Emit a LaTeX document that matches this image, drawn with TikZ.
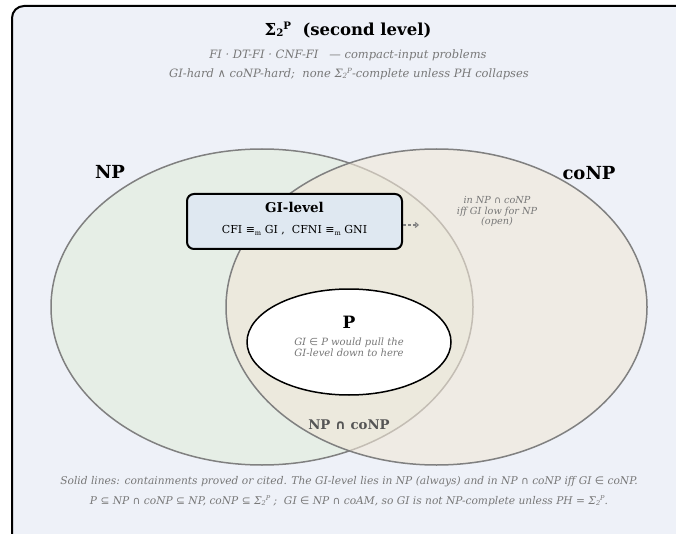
\documentclass[tikz,border=0pt]{standalone}
\usepackage{graphicx}
\usepackage{fontspec}
\setmainfont{DejaVu Serif}
\newfontfamily\symfont{DejaVu Sans}
\usetikzlibrary{arrows.meta,shapes.geometric}
\definecolor{bgcol}{RGB}{238,241,248}
\definecolor{npcol}{RGB}{230,238,230}
\definecolor{conpcol}{RGB}{241,231,215}
\definecolor{edgecol}{RGB}{128,128,128}
\definecolor{gibox}{RGB}{223,232,241}
\definecolor{notecol}{RGB}{120,120,120}
\definecolor{midcol}{RGB}{85,85,85}
\newcommand{\SigP}{Σ\raisebox{-0.15ex}{\scalebox{0.62}{2}}\raisebox{0.75ex}{\scalebox{0.62}{P}}}
\newcommand{\eqm}{{\symfont ≡}\raisebox{-0.35ex}{\scalebox{0.6}{m}}}
\newcommand{\meetsym}{{\symfont ∩}}
\newcommand{\elt}{{\symfont ∈}}
\newcommand{\sbe}{{\symfont ⊆}}
\newcommand{\andsym}{{\symfont ∧}}
\newcommand{\fs}[2]{\fontsize{#1}{#2}\selectfont}
\tikzset{
  setshape/.style={ellipse, draw=edgecol, line width=1.5pt, inner sep=0pt},
  note/.style={text=notecol, font=\fs{10.65}{13}\itshape, align=center},
  small/.style={text=notecol, font=\fs{9.7}{10.6}\itshape, align=center, inner sep=0pt},
  setlabel/.style={font=\fs{18}{20}\bfseries},
}
\begin{document}
\begin{tikzpicture}[x=1pt,y=-1pt]
\useasboundingbox (0,0) rectangle (676,534);
\begin{scope}
\clip (0,0) rectangle (676,534);
\draw[line width=2pt, fill=bgcol, rounded corners=12pt] (12,6) rectangle (710,570);
\end{scope}
% title
\node[font=\fs{16.5}{18}\bfseries] (title) at (348,30) {\SigP\ \ (second level)};
\node[note, font=\fs{11.5}{13}\itshape] (sub1) at (348,55) {FI · DT-FI · CNF-FI \ \ — compact-input problems};
\node[note, font=\fs{11.5}{13}\itshape] (sub2) at (349,74) {GI-hard \andsym{} coNP-hard; \ none \SigP-complete unless PH collapses};
% sets
\node[setshape, fill=npcol, minimum width=422pt, minimum height=316pt] (np) at (262,307) {};
\node[setshape, fill=conpcol, fill opacity=0.6, draw opacity=1, minimum width=421pt, minimum height=316pt] (conp) at (436.5,307) {};
\node[setlabel] (nplabel) at (110,172) {NP};
\node[setlabel] (conplabel) at (589,173) {coNP};
% GI-level box
\node[draw=black, line width=2pt, fill=gibox, rounded corners=7pt, minimum width=215pt, minimum height=55pt] (gi) at (294.5,221.5) {};
\node[font=\fs{13.5}{15}\bfseries, inner sep=0pt] (gititle) at (294.5,207) {GI-level};
\node[font=\fs{11}{12}, inner sep=0pt] (gitext) at (294.5,230) {CFI \eqm{} GI , \ CFNI \eqm{} GNI};
\coordinate (arrend) at (419,225);
\draw[edgecol, line width=1.2pt, dash pattern=on 3pt off 2pt, -{Straight Barb[length=3pt,width=5pt]}] (gi.east |- arrend) -- (arrend);
\node[small] (lowann) at (497,211.5) {in NP \meetsym{} coNP\\iff GI low for NP\\(open)};
% P
\node[ellipse, draw=black, line width=1.5pt, fill=white, minimum width=204pt, minimum height=106pt] (p) at (349,342) {};
\node[font=\fs{17}{18}\bfseries, inner sep=0pt] (plabel) at (349,322) {P};
\node[small, font=\fs{10}{10.8}\itshape] (ptext) at (349,347.5) {GI \elt{} P would pull the\\GI-level down to here};
\node[font=\fs{13.3}{15}\bfseries, text=midcol] (meet) at (349,425) {NP \meetsym{} coNP};
% bottom notes
\node[note] (bot1) at (349,482) {Solid lines: containments proved or cited. The GI-level lies in NP (always) and in NP \meetsym{} coNP iff GI \elt{} coNP.};
\node[note] (bot2) at (349,501) {P \sbe{} NP \meetsym{} coNP \sbe{} NP, coNP \sbe{} \SigP\ ; \ GI \elt{} NP \meetsym{} coAM, so GI is not NP-complete unless PH = \SigP.};
\end{tikzpicture}
\end{document}
